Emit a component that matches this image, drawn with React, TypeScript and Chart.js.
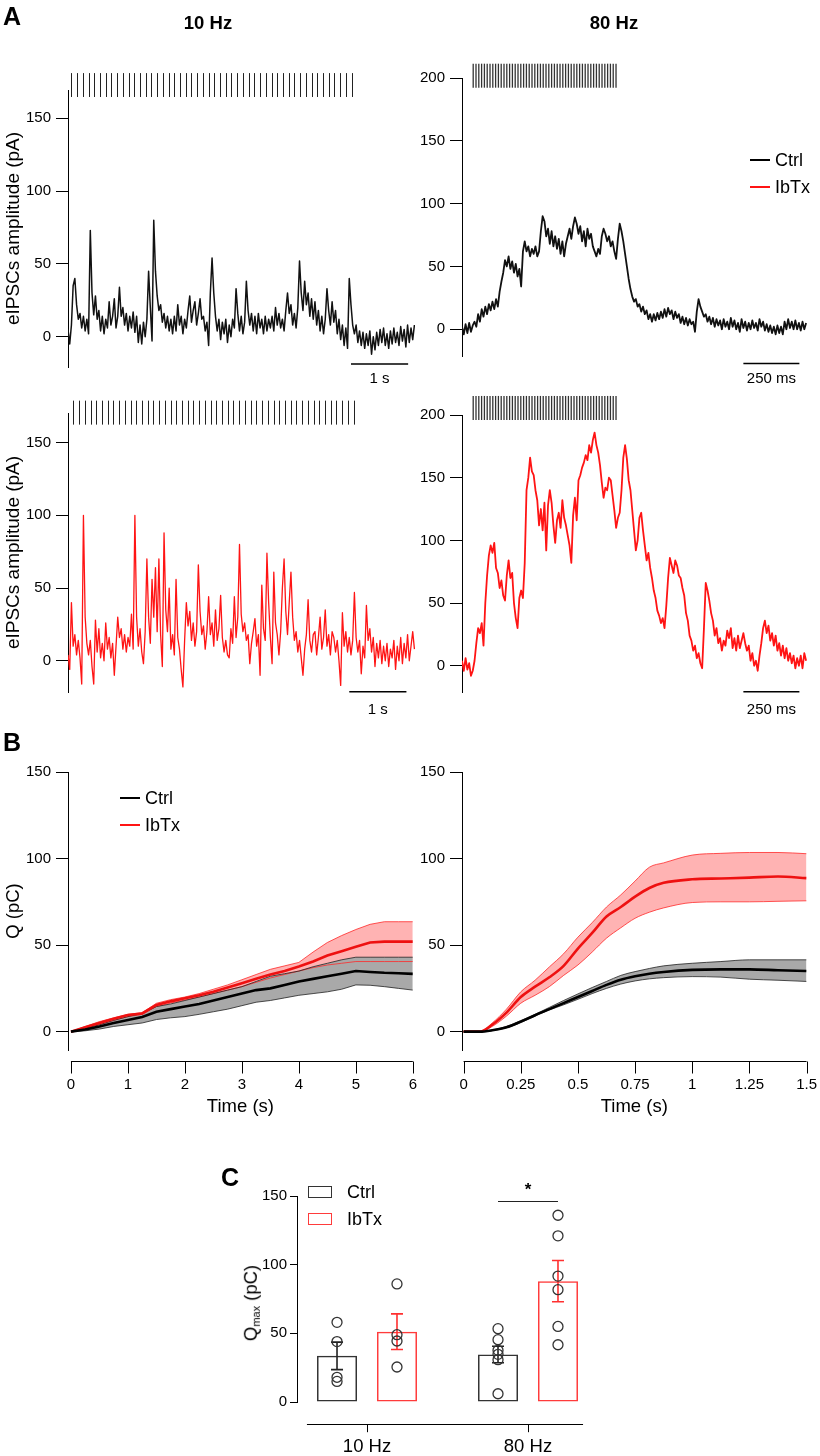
import React, { useEffect, useRef } from 'react';
import { Chart, registerables } from 'chart.js';

Chart.register(...registerables);

const FONT = "'Liberation Sans', Arial, Helvetica, sans-serif";
const BLACK = '#111111';
const RED = '#ff1414';

// ---------------- Panel A: eIPSC traces ----------------
const traceDt10Hz = 0.03; // s between samples
const traceDt80Hz = 0.008; // s between samples

const ctrl10Hz = [
  5, -5, 8, 35, 40, 22, 12, 16, 6, 14,
  4, 12, 2, 73, 30, 15, 28, 12, 18, 4,
  14, 2, 12, 6, 24, 8, 14, 26, 6, 14,
  34, 14, 20, 8, 16, 4, 14, 6, 17, 3,
  14, -4, 8, -5, 10, 0, 12, 45, 20, -3,
  80, 45, 28, 18, 22, 10, 16, 6, 14, 4,
  12, 2, 14, 4, 22, 8, 14, 2, 12, 6,
  18, 28, 10, 18, 24, 8, 16, 26, 12, 14,
  4, 10, -6, 30, 54, 30, 14, 4, 12, -2,
  10, 2, 12, -4, 8, 0, 12, 6, 33, 16,
  4, 14, 2, 10, 38, 18, 8, 16, 4, 14,
  2, 16, 6, 12, 2, 14, 4, 12, 6, 14,
  4, 20, 8, 16, 6, 12, 4, 18, 30, 16,
  22, 8, 16, 6, 20, 52, 30, 18, 38, 22,
  30, 14, 26, 12, 24, 8, 18, 4, 14, 2,
  12, 33, 18, 8, 24, 10, 18, 2, 12, -2,
  8, -6, 6, -8, 40, 22, 8, 2, 8, -4,
  4, -6, 3, -8, 2, -6, 4, -12, 0, -9,
  3, -6, 5, -4, 6, -6, 2, -8, 4, -5,
  6, -4, 3, -6, 7, -3, 5, -7, 8, -4,
  6, -2, 8,
];

const ibtx10Hz = [
  4, -6, 40, 10, 18, 4, 14, 2, -16, 100,
  30, 12, 4, 14, -4, -16, 28, 6, 22, 2,
  12, 0, 26, 8, 16, 2, 12, -10, 10, 30,
  16, 22, 8, 18, 6, 16, 10, 32, 8, 100,
  30, 10, 22, 6, -2, 20, 70, 30, 12, 56,
  30, 64, 20, 70, 18, -4, 88, 35, 20, 50,
  8, 18, 4, 56, 16, 8, -6, -18, 14, 40,
  24, 34, 14, 26, 10, 20, 66, 34, 18, 24,
  8, 20, 44, 18, 26, 10, 35, 14, 22, 45,
  16, 6, 14, 4, 2, 22, 12, 44, 16, 30,
  80, 32, 20, 26, 14, 18, -2, 12, 20, 29,
  10, 18, -10, 52, 22, 14, 74, 40, 16, -2,
  61, 26, 18, 4, 20, 50, 70, 34, 18, 40,
  61, 30, 14, 20, 6, 14, 2, -10, 8, 18,
  42, 14, 6, 18, 20, 4, 16, 30, 8, 16,
  35, 10, 18, 4, 20, 16, 6, 14, 0, -17,
  33, 10, 20, 6, 16, 4, 14, 47, 16, 6,
  14, -9, 10, 2, 38, 14, 22, 6, 16, -4,
  12, 2, 14, -2, 10, 0, 12, -4, 8, 2,
  14, -6, 10, 0, 16, -2, 12, 2, 18, 0,
  10, 20, 8,
];

const ctrl80Hz = [
  2, -4, 4, -3, 5, -2, 3, 6, 2, 12,
  6, 16, 10, 18, 12, 20, 15, 22, 16, 24,
  18, 30, 38, 45, 55, 50, 58, 48, 54, 45,
  52, 42, 48, 34, 62, 70, 62, 66, 58, 64,
  60, 66, 58, 62, 78, 90, 86, 74, 80, 68,
  78, 66, 74, 64, 72, 60, 70, 58, 68, 74,
  80, 72, 82, 89, 84, 76, 82, 70, 78, 66,
  80, 72, 76, 66, 62, 58, 64, 60, 74, 80,
  76, 70, 74, 66, 70, 62, 56, 72, 84, 78,
  70, 60, 50, 40, 32, 26, 22, 24, 18, 20,
  14, 18, 12, 15, 8, 12, 6, 12, 7, 13,
  8, 14, 9, 16, 10, 17, 12, 15, 8, 14,
  9, 12, 5, 10, 4, 9, 3, 8, 4, 6,
  -2, 14, 24, 18, 14, 10, 12, 6, 10, 4,
  9, 2, 8, 3, 7, 0, 8, 2, 6, 0,
  9, 2, 7, 0, 5, -2, 8, 1, 6, -1,
  5, 0, 7, 1, 5, -1, 8, 2, 6, -1,
  4, -2, 3, -3, 2, -4, 3, -3, 2, -4,
  6, 0, 8, 1, 6, 0, 7, 0, 5, -1,
  6, 0, 5,
];

const ibtx80Hz = [
  4, -4, 6, -3, 2, -8, -4, 4, 18, 30,
  26, 34, 16, 50, 72, 88, 96, 90, 98, 78,
  74, 62, 68, 56, 52, 72, 84, 70, 74, 50,
  38, 30, 54, 60, 54, 82, 140, 150, 166, 155,
  152, 140, 132, 112, 125, 108, 130, 92, 128, 140,
  130, 112, 98, 116, 122, 110, 132, 118, 112, 104,
  96, 82, 120, 134, 116, 148, 152, 158, 162, 168,
  164, 176, 170, 180, 186, 176, 170, 160, 146, 134,
  142, 140, 150, 148, 136, 124, 110, 118, 122, 140,
  166, 176, 165, 148, 140, 124, 108, 92, 100, 118,
  122, 108, 96, 84, 90, 78, 70, 60, 54, 44,
  40, 34, 38, 30, 48, 70, 86, 80, 74, 84,
  80, 72, 70, 62, 56, 42, 36, 24, 20, 12,
  16, 6, 10, 2, -2, 30, 66, 60, 52, 42,
  36, 24, 30, 18, 22, 12, 20, 16, 28, 22,
  30, 14, 22, 12, 24, 14, 20, 26, 18, 12,
  16, 4, 10, 0, 4, -4, 8, 18, 30, 36,
  26, 32, 20, 26, 16, 24, 12, 18, 8, 16,
  6, 14, 4, 10, 2, 8, -2, 6, 0, 8,
  -2, 10, 4,
];

const traceTicks10Hz = [0, 50, 100, 150];
const traceTicks80Hz = [0, 50, 100, 150, 200];

// ---------------- Panel B: cumulative charge ----------------
const qTime10 = [0, 0.25, 0.5, 0.75, 1, 1.25, 1.5, 1.75, 2, 2.25, 2.5, 2.75, 3, 3.25, 3.5, 3.75, 4, 4.25, 4.5, 4.75, 5, 5.25, 5.5, 5.75, 6];
const qCtrl10Mean = [0, 1.2, 3, 5, 6.7, 8.5, 11.5, 13, 14.5, 16, 18, 20, 22, 24, 25, 27, 29, 30.5, 32, 33.5, 35, 34.5, 34, 33.7, 33.4];
const qCtrl10Upper = [0, 2, 4, 6.5, 8.7, 10.5, 14.5, 16, 18, 20, 22, 24, 26, 29, 32, 33.5, 35, 37.5, 39.5, 41.5, 43, 43, 43, 43, 43];
const qCtrl10Lower = [0, 0.5, 1.5, 3, 4, 5, 7, 8, 8.7, 10, 11.5, 13, 15, 17, 18, 19.5, 21, 22, 23, 24.5, 27, 26.8, 26, 25, 24];
const qIbtx10Mean = [0, 2.5, 5, 7.5, 9.6, 10.5, 15.4, 17.5, 19.3, 21, 23, 25.5, 28, 30.5, 33, 35, 37.6, 40.5, 44, 46.5, 49, 51.5, 52, 52, 52];
const qIbtx10Upper = [0, 3, 5.8, 8, 10, 11, 16.4, 18.5, 20, 22, 24.5, 27, 30, 33, 36, 38, 40, 46, 51.5, 55.5, 59, 62, 63.5, 63.5, 63.5];
const qIbtx10Lower = [0, 2, 4, 6.5, 8.7, 10, 14.5, 16.5, 18.3, 20, 22, 24, 26, 28.5, 31, 33, 35, 37, 38.5, 39.5, 40.5, 40.5, 40.5, 40.5, 40.5];

const qTime80 = [0, 0.07, 0.125, 0.1875, 0.25, 0.3125, 0.375, 0.4375, 0.5, 0.5625, 0.625, 0.6875, 0.75, 0.8125, 0.875, 1, 1.125, 1.25, 1.375, 1.5];
const qCtrl80Mean = [0, 0, 0.8, 2.5, 5.8, 9.5, 13, 16.5, 20, 23.5, 27, 30, 32, 33.5, 34.5, 35.7, 36, 36, 35.5, 35];
const qCtrl80Upper = [0, 0, 1, 3, 6.4, 10, 14, 18, 21.8, 25.5, 29, 32.5, 34.7, 36.5, 38, 39.5, 40.5, 41.5, 41.5, 41.5];
const qCtrl80Lower = [0, 0, 0.6, 2.2, 5.2, 9, 12.5, 15.5, 18.7, 22, 25, 27.5, 29.3, 30.5, 31.2, 31.8, 31.5, 30.3, 29.7, 29];
const qIbtx80Mean = [0, 0, 4, 11, 20, 26, 31.4, 38, 48, 57, 66.5, 72, 78, 83, 86, 88, 88.5, 89, 89.6, 88.7];
const qIbtx80Upper = [0, 0, 5, 13, 23, 29.7, 37.4, 45, 54.6, 63, 72, 79, 87, 95, 97.5, 102, 103, 103.5, 103.5, 102.8];
const qIbtx80Lower = [0, 0, 3, 9, 16.4, 21, 26, 32.5, 38.5, 46, 54, 60, 65.5, 69, 71.5, 74.6, 75, 75, 75.3, 75.6];

const qTicksY = [0, 50, 100, 150];
const qTicksX10 = [0, 1, 2, 3, 4, 5, 6];
const qTicksX80 = [0, 0.25, 0.5, 0.75, 1, 1.25, 1.5];

// ---------------- Panel C: Qmax ----------------
const qmaxCategories = ['10 Hz', '80 Hz'];
const qmaxCtrlMean = [33.6, 34.6];
const qmaxCtrlSem = [10, 6];
const qmaxIbtxMean = [51.2, 88];
const qmaxIbtxSem = [13, 15];
const qmaxCtrlPoints = [[58, 44, 18, 15], [53.4, 45.4, 37.6, 34.7, 30.8, 6]];
const qmaxIbtxPoints = [[86, 49, 44.4, 25.5], [136, 121, 91.7, 81.8, 55, 41.7]];
const qmaxTicks = [0, 50, 100, 150];

// ---------------- helpers ----------------
function yAxis(ticks: number[], width: number, min: number, max: number, title?: string, titleSize = 19, titlePad = 2, tickLen = 12, tickPad = 5) {
  return {
    type: 'linear',
    position: 'left',
    min,
    max,
    afterFit: (s: any) => { s.width = width; },
    afterBuildTicks: (s: any) => { s.ticks = ticks.map((v) => ({ value: v })); },
    border: { display: true, color: '#000', width: 1 },
    grid: { display: true, drawOnChartArea: false, drawTicks: true, tickLength: tickLen, color: '#000', lineWidth: 1 },
    ticks: { padding: tickPad, color: '#000', font: { family: FONT, size: 15 }, callback: (v: any) => String(v) },
    title: title
      ? { display: true, text: title, color: '#000', font: { family: FONT, size: titleSize }, padding: { top: titlePad, bottom: 0 } }
      : { display: false },
  };
}

function traceDecor(stim: any, bar: any) {
  return {
    id: 'traceDecor',
    afterDraw(chart: any) {
      const { ctx } = chart;
      const xs = chart.scales.x;
      const ys = chart.scales.y;
      ctx.save();
      ctx.strokeStyle = stim.color;
      ctx.lineWidth = stim.width;
      const yTop = ys.getPixelForValue(stim.yHi);
      const yBot = ys.getPixelForValue(stim.yLo);
      for (let k = 0; k < stim.count; k++) {
        const raw = xs.getPixelForValue(stim.start + k * stim.interval);
        const x = stim.snap ? Math.round(raw) + 0.5 : raw;
        ctx.beginPath();
        ctx.moveTo(x, yTop);
        ctx.lineTo(x, yBot);
        ctx.stroke();
      }
      ctx.strokeStyle = '#000';
      ctx.lineWidth = 1.5;
      const x1 = xs.getPixelForValue(bar.from);
      const x2 = xs.getPixelForValue(bar.to);
      ctx.beginPath();
      ctx.moveTo(x1, bar.y);
      ctx.lineTo(x2, bar.y);
      ctx.stroke();
      ctx.fillStyle = '#000';
      ctx.font = `15px ${FONT}`;
      ctx.textAlign = 'center';
      ctx.textBaseline = 'middle';
      ctx.fillText(bar.label, (x1 + x2) / 2, bar.labelY);
      ctx.restore();
    },
  };
}

function offsetXAxis(o: { gap: number; tick: number; from: number; to: number; ticks: number[] }) {
  return {
    id: 'offsetXAxis',
    afterDraw(chart: any) {
      const { ctx } = chart;
      const xs = chart.scales.x;
      const y0 = Math.round(chart.chartArea.bottom + o.gap) + 0.5;
      ctx.save();
      ctx.strokeStyle = '#000';
      ctx.lineWidth = 1;
      ctx.beginPath();
      ctx.moveTo(xs.getPixelForValue(o.from), y0);
      ctx.lineTo(xs.getPixelForValue(o.to), y0);
      o.ticks.forEach((t) => {
        const x = Math.round(xs.getPixelForValue(t)) + 0.5;
        ctx.moveTo(x, y0);
        ctx.lineTo(x, y0 + o.tick);
      });
      ctx.stroke();
      ctx.restore();
    },
  };
}

const baseOptions = {
  animation: false,
  responsive: false,
  events: [],
  plugins: { legend: { display: false }, tooltip: { enabled: false } },
};

function traceConfig(s: any) {
  return {
    type: 'line',
    data: {
      datasets: [
        {
          data: s.values.map((v: number, i: number) => ({ x: i * s.dt, y: v })),
          borderColor: s.color,
          borderWidth: s.lineWidth,
          pointRadius: 0,
          tension: 0,
          fill: false,
          borderJoinStyle: 'round',
        },
      ],
    },
    options: {
      ...baseOptions,
      layout: { padding: { left: 0, top: s.pad.top, right: s.pad.right, bottom: s.pad.bottom } },
      scales: {
        x: { type: 'linear', min: 0, max: s.xMax, display: false },
        y: yAxis(s.ticks, s.yWidth, s.yMin, s.yMax, s.title, 19, 2),
      },
    },
    plugins: [traceDecor(s.stim, s.bar)],
  };
}

function chargeConfig(s: any) {
  const pts = (arr: number[]) => s.time.map((t: number, i: number) => ({ x: t, y: arr[i] }));
  const interp = s.smooth ? { cubicInterpolationMode: 'monotone' } : { tension: 0 };
  return {
    type: 'line',
    data: {
      datasets: [
        { data: pts(s.ctrlMean), borderColor: '#000', borderWidth: 2.6, pointRadius: 0, fill: false, ...interp },
        { data: pts(s.ibtxMean), borderColor: '#ee1111', borderWidth: 2.6, pointRadius: 0, fill: false, ...interp },
        { data: pts(s.ctrlUpper), borderColor: '#222', borderWidth: 0.8, pointRadius: 0, fill: '+1', backgroundColor: '#a9a9a9', ...interp },
        { data: pts(s.ctrlLower), borderColor: '#222', borderWidth: 0.8, pointRadius: 0, fill: false, ...interp },
        { data: pts(s.ibtxUpper), borderColor: '#ff2a2a', borderWidth: 0.8, pointRadius: 0, fill: '+1', backgroundColor: '#ffb3b3', ...interp },
        { data: pts(s.ibtxLower), borderColor: '#ff2a2a', borderWidth: 0.8, pointRadius: 0, fill: false, ...interp },
      ],
    },
    options: {
      ...baseOptions,
      plugins: { ...baseOptions.plugins, filler: { drawTime: 'beforeDatasetsDraw' } },
      layout: { padding: { left: 0, top: 32, right: s.padRight, bottom: 0 } },
      scales: {
        x: {
          type: 'linear',
          position: 'bottom',
          min: s.xMin,
          max: s.xMax,
          afterFit: (sc: any) => { sc.height = 80; },
          afterBuildTicks: (sc: any) => { sc.ticks = s.xTicks.map((v: number) => ({ value: v })); },
          border: { display: false },
          grid: { display: true, drawOnChartArea: false, drawTicks: true, tickLength: 23, color: 'rgba(0,0,0,0)' },
          ticks: { padding: 3, color: '#000', font: { family: FONT, size: 15 }, maxRotation: 0, autoSkip: false, callback: (v: any) => String(v) },
          title: { display: true, text: 'Time (s)', color: '#000', font: { family: FONT, size: 18.5 }, padding: { top: 0, bottom: 12 } },
        },
        y: yAxis(qTicksY, s.yWidth, -10.6, 150, s.title, 18.5, 3),
      },
    },
    plugins: [offsetXAxis({ gap: 10.5, tick: 12, from: s.xTicks[0], to: s.xTicks[s.xTicks.length - 1], ticks: s.xTicks })],
  };
}

const qmaxExtras = {
  id: 'qmaxExtras',
  afterDatasetsDraw(chart: any) {
    const { ctx } = chart;
    const ys = chart.scales.y;
    const groups = [
      { mean: qmaxCtrlMean, sem: qmaxCtrlSem, pts: qmaxCtrlPoints, color: '#222' },
      { mean: qmaxIbtxMean, sem: qmaxIbtxSem, pts: qmaxIbtxPoints, color: '#ff3030' },
    ];
    ctx.save();
    groups.forEach((g, d) => {
      const meta = chart.getDatasetMeta(d);
      meta.data.forEach((bar: any, i: number) => {
        const x = bar.x;
        const yHi = ys.getPixelForValue(g.mean[i] + g.sem[i]);
        const yLo = ys.getPixelForValue(g.mean[i] - g.sem[i]);
        ctx.strokeStyle = g.color;
        ctx.lineWidth = 1.6;
        ctx.beginPath();
        ctx.moveTo(x, yHi);
        ctx.lineTo(x, yLo);
        ctx.moveTo(x - 6, yHi);
        ctx.lineTo(x + 6, yHi);
        ctx.moveTo(x - 6, yLo);
        ctx.lineTo(x + 6, yLo);
        ctx.stroke();
        ctx.strokeStyle = '#333';
        ctx.lineWidth = 1.3;
        g.pts[i].forEach((v: number) => {
          ctx.beginPath();
          ctx.arc(x, ys.getPixelForValue(v), 5, 0, Math.PI * 2);
          ctx.stroke();
        });
      });
    });
    // significance bracket (80 Hz)
    const x1 = chart.getDatasetMeta(0).data[1].x;
    const x2 = chart.getDatasetMeta(1).data[1].x;
    const ySig = Math.round(ys.getPixelForValue(146.5)) + 0.5;
    ctx.strokeStyle = '#222';
    ctx.lineWidth = 1.2;
    ctx.beginPath();
    ctx.moveTo(x1, ySig);
    ctx.lineTo(x2, ySig);
    ctx.stroke();
    ctx.fillStyle = '#000';
    ctx.font = `bold 17px ${FONT}`;
    ctx.textAlign = 'center';
    ctx.textBaseline = 'middle';
    ctx.fillText('*', (x1 + x2) / 2, ySig - 11);
    ctx.restore();
  },
};

function qmaxConfig() {
  const ix = qmaxCategories.map((_, i) => i + 1);
  return {
    type: 'bar',
    data: {
      datasets: [
        {
          label: 'Ctrl',
          data: ix.map((x, i) => ({ x, y: qmaxCtrlMean[i] })),
          borderColor: '#333',
          backgroundColor: 'rgba(255,255,255,0)',
          borderWidth: 1.5,
          borderSkipped: false,
          categoryPercentage: 0.745,
          barPercentage: 0.667,
        },
        {
          label: 'IbTx',
          data: ix.map((x, i) => ({ x, y: qmaxIbtxMean[i] })),
          borderColor: '#ff3b3b',
          backgroundColor: 'rgba(255,255,255,0)',
          borderWidth: 1.5,
          borderSkipped: false,
          categoryPercentage: 0.745,
          barPercentage: 0.667,
        },
      ],
    },
    options: {
      ...baseOptions,
      layout: { padding: { left: 0, top: 46, right: 30, bottom: 0 } },
      scales: {
        x: {
          type: 'linear',
          position: 'bottom',
          offset: false,
          min: 0.5652,
          max: 2.3851,
          afterFit: (sc: any) => { sc.height = 54; },
          afterBuildTicks: (sc: any) => { sc.ticks = ix.map((v) => ({ value: v })); },
          border: { display: false },
          grid: { display: true, drawOnChartArea: false, drawTicks: true, tickLength: 30, color: 'rgba(0,0,0,0)', offset: false },
          ticks: { padding: 3.6, color: '#000', font: { family: FONT, size: 18.5 }, maxRotation: 0, autoSkip: false, callback: (v: any) => qmaxCategories[Math.round(v) - 1] },
        },
        y: yAxis(qmaxTicks, 97, 0, 150, undefined, 18.5, 0, 7, 3),
      },
    },
    plugins: [qmaxExtras, offsetXAxis({ gap: 22.3, tick: 7.7, from: 0.627, to: 2.342, ticks: ix })],
  };
}

function ChartCanvas({ left, top, width, height, make }: { left: number; top: number; width: number; height: number; make: () => any }) {
  const ref = useRef<HTMLCanvasElement>(null);
  useEffect(() => {
    const chart = new Chart(ref.current as HTMLCanvasElement, make());
    return () => chart.destroy();
  }, []);
  return <canvas ref={ref} width={width} height={height} style={{ position: 'absolute', left, top, width, height }} />;
}

function Txt({ x, y, size, bold, center, color, children }: any) {
  return (
    <div
      style={{
        position: 'absolute',
        left: x,
        top: y,
        fontSize: size,
        fontWeight: bold ? 'bold' : 'normal',
        lineHeight: 1,
        color: color || '#000',
        whiteSpace: 'nowrap',
        transform: `translate(${center ? '-50%' : '0'}, -50%)`,
      }}
    >
      {children}
    </div>
  );
}

function Line({ x, y, w, color }: any) {
  return <div style={{ position: 'absolute', left: x, top: y - 1, width: w, height: 2, background: color }} />;
}

const stim10 = { interval: 0.1, count: 50, width: 1, color: '#222', snap: true };
const stim80 = { interval: 0.0125, count: 52, width: 1.3, color: '#333', snap: false };

export default function App() {
  return (
    <div style={{ position: 'absolute', left: 0, top: 0, width: 820, height: 1456, background: '#fff', fontFamily: FONT, color: '#000', overflow: 'hidden' }}>
      {/* Panel A */}
      <ChartCanvas left={0} top={0} width={420} height={400} make={() => traceConfig({
        values: ctrl10Hz, dt: traceDt10Hz, color: BLACK, lineWidth: 1.5, xMax: 6.07, yMin: -20.8, yMax: 169.4, ticks: traceTicks10Hz, yWidth: 68,
        title: 'eIPSCs amplitude (pA)', pad: { top: 90, right: 5, bottom: 33 },
        stim: { ...stim10, start: 0.06, yLo: 164.6, yHi: 181 },
        bar: { from: 4.95, to: 5.95, y: 364, labelY: 379, label: '1 s' },
      })} />
      <ChartCanvas left={400} top={0} width={420} height={400} make={() => traceConfig({
        values: ctrl80Hz, dt: traceDt80Hz, color: BLACK, lineWidth: 1.8, xMax: 1.54, yMin: -21.3, yMax: 200, ticks: traceTicks80Hz, yWidth: 62,
        pad: { top: 78, right: 13, bottom: 44 },
        stim: { ...stim80, start: 0.05, yLo: 192.3, yHi: 211.4 },
        bar: { from: 1.256, to: 1.506, y: 363.5, labelY: 379, label: '250 ms' },
      })} />
      <ChartCanvas left={0} top={380} width={420} height={340} make={() => traceConfig({
        values: ibtx10Hz, dt: traceDt10Hz, color: RED, lineWidth: 1.3, xMax: 6.07, yMin: -21.5, yMax: 170.4, ticks: traceTicks10Hz, yWidth: 68,
        title: 'eIPSCs amplitude (pA)', pad: { top: 33, right: 5, bottom: 28 },
        stim: { ...stim10, start: 0.095, yLo: 162.4, yHi: 178.9 },
        bar: { from: 4.92, to: 5.92, y: 311.7, labelY: 330, label: '1 s' },
      })} />
      <ChartCanvas left={400} top={380} width={420} height={340} make={() => traceConfig({
        values: ibtx80Hz, dt: traceDt80Hz, color: RED, lineWidth: 1.8, xMax: 1.54, yMin: -21.5, yMax: 200, ticks: traceTicks80Hz, yWidth: 62,
        pad: { top: 35, right: 13, bottom: 27.3 },
        stim: { ...stim80, start: 0.05, yLo: 196, yHi: 215.2 },
        bar: { from: 1.256, to: 1.506, y: 311.7, labelY: 330, label: '250 ms' },
      })} />

      {/* Panel B */}
      <ChartCanvas left={0} top={740} width={420} height={390} make={() => chargeConfig({
        time: qTime10, ctrlMean: qCtrl10Mean, ctrlUpper: qCtrl10Upper, ctrlLower: qCtrl10Lower,
        ibtxMean: qIbtx10Mean, ibtxUpper: qIbtx10Upper, ibtxLower: qIbtx10Lower,
        xMin: -0.052, xMax: 6, xTicks: qTicksX10, yWidth: 68, title: 'Q (pC)', padRight: 5, smooth: false,
      })} />
      <ChartCanvas left={400} top={740} width={420} height={390} make={() => chargeConfig({
        time: qTime80, ctrlMean: qCtrl80Mean, ctrlUpper: qCtrl80Upper, ctrlLower: qCtrl80Lower,
        ibtxMean: qIbtx80Mean, ibtxUpper: qIbtx80Upper, ibtxLower: qIbtx80Lower,
        xMin: -0.007, xMax: 1.5, xTicks: qTicksX80, yWidth: 62, padRight: 13, smooth: true,
      })} />

      {/* Panel C */}
      <ChartCanvas left={200} top={1150} width={420} height={306} make={qmaxConfig} />

      {/* Text overlays */}
      <Txt x={3} y={16} size={25} bold>A</Txt>
      <Txt x={208} y={23} size={18.5} bold center>10 Hz</Txt>
      <Txt x={614} y={23} size={18.5} bold center>80 Hz</Txt>
      <Line x={750} y={160} w={20} color="#000" />
      <Txt x={775} y={160} size={18}>Ctrl</Txt>
      <Line x={750} y={187} w={20} color={RED} />
      <Txt x={775} y={187} size={18}>IbTx</Txt>

      <Txt x={3} y={742} size={25} bold>B</Txt>
      <Line x={120} y={798} w={20} color="#000" />
      <Txt x={145} y={798} size={18}>Ctrl</Txt>
      <Line x={120} y={825} w={20} color={RED} />
      <Txt x={145} y={825} size={18}>IbTx</Txt>

      <Txt x={221} y={1177} size={25} bold>C</Txt>
      <div style={{ position: 'absolute', left: 308, top: 1186, width: 24, height: 12, border: '1.5px solid #333', boxSizing: 'border-box' }} />
      <Txt x={347} y={1192} size={18}>Ctrl</Txt>
      <div style={{ position: 'absolute', left: 308, top: 1213, width: 24, height: 12, border: '1.5px solid #ff3b3b', boxSizing: 'border-box' }} />
      <Txt x={347} y={1219} size={18}>IbTx</Txt>
      <div
        style={{
          position: 'absolute',
          left: 252,
          top: 1303,
          fontSize: 18.5,
          lineHeight: 1,
          whiteSpace: 'nowrap',
          transform: 'translate(-50%, -50%) rotate(-90deg)',
        }}
      >
        Q<sub style={{ fontSize: 11, verticalAlign: '-0.3em' }}>max</sub> (pC)
      </div>
    </div>
  );
}
